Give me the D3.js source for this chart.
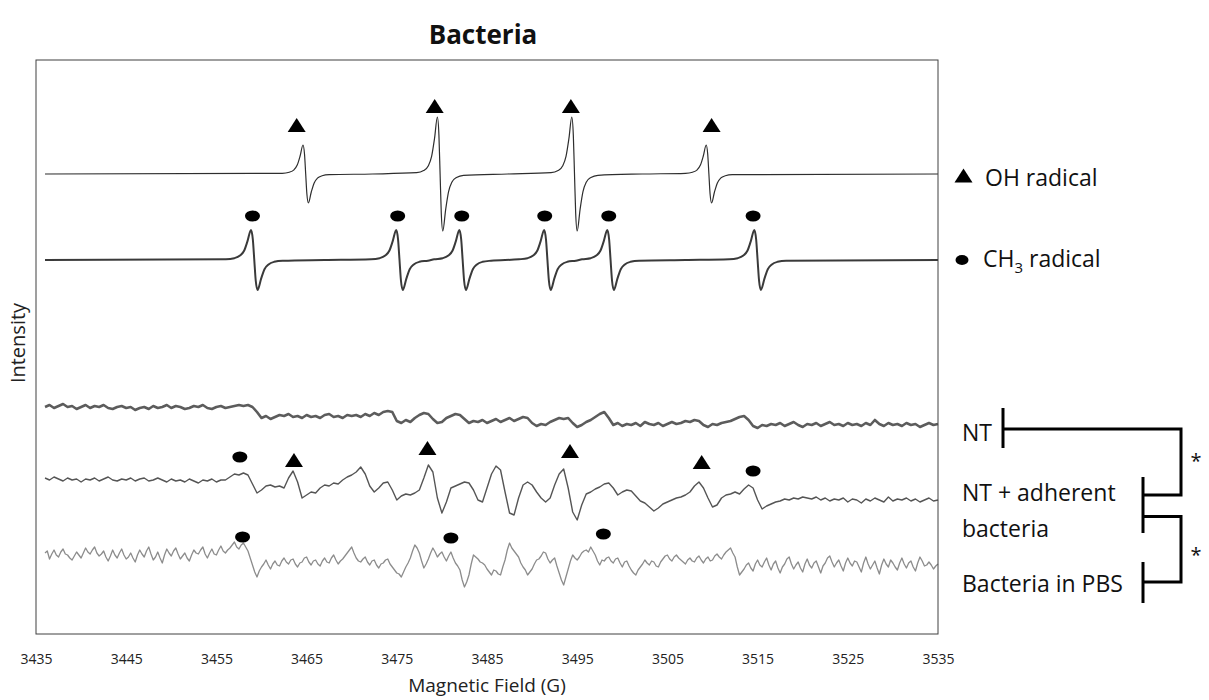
<!doctype html>
<html>
<head>
<meta charset="utf-8">
<title>Bacteria</title>
<style>
  html, body { margin: 0; padding: 0; background: #fff; }
  svg { display: block; font-family: "Open Sans", "Noto Sans", sans-serif; }
</style>
<script src="https://cdnjs.cloudflare.com/ajax/libs/d3/7.8.5/d3.min.js"></script>
</head>
<body>
<script>
// x axis tick labels (G)
var fieldTicks = [3435, 3445, 3455, 3465, 3475, 3485, 3495, 3505, 3515, 3525, 3535];

// simulated spectra, [field G, intensity a.u.]
var ohSpectrum = [
  [3436, 0],
  [3462.3, 0.7], [3463.08, 1.8], [3463.6, 4.2], [3463.96, 8.9], [3464.28, 18], [3464.6, 29], [3464.77, 19.8], [3464.9, 0],
  [3465.03, -19.8], [3465.2, -29], [3465.52, -18], [3465.84, -8.9], [3466.2, -4.2], [3466.72, -1.8], [3467.5, -0.7],
  [3472.3, 0],
  [3477.2, 1.3], [3477.98, 3.5], [3478.5, 8.3], [3478.86, 17.6], [3479.18, 35.3], [3479.5, 57], [3479.67, 38.9], [3479.8, 0],
  [3479.93, -38.9], [3480.1, -57], [3480.42, -35.3], [3480.74, -17.6], [3481.1, -8.3], [3481.62, -3.5], [3482.4, -1.3],
  [3487.3, 0],
  [3492.1, 1.3], [3492.88, 3.5], [3493.4, 8.3], [3493.76, 17.6], [3494.08, 35.3], [3494.4, 57], [3494.57, 38.9], [3494.7, 0],
  [3494.83, -38.9], [3495.0, -57], [3495.32, -35.3], [3495.64, -17.6], [3496.0, -8.3], [3496.52, -3.5], [3497.3, -1.3],
  [3502.2, 0],
  [3507.0, 0.7], [3507.78, 1.8], [3508.3, 4.2], [3508.66, 8.9], [3508.98, 18], [3509.3, 29], [3509.47, 19.8], [3509.6, 0],
  [3509.73, -19.8], [3509.9, -29], [3510.22, -18], [3510.54, -8.9], [3510.9, -4.2], [3511.42, -1.8], [3512.2, -0.7],
  [3535, 0]
];

var ch3Spectrum = [
  [3436, 0],
  [3456.05, 0.7], [3456.99, 1.8], [3457.62, 4.4], [3458.07, 9.2], [3458.44, 18.6], [3458.84, 30], [3459.04, 20.5], [3459.2, 0],
  [3459.36, -20.5], [3459.56, -30], [3459.96, -18.6], [3460.33, -9.2], [3460.78, -4.4], [3461.41, -1.8], [3462.35, -0.7],
  [3467, 0],
  [3472.15, 0.7], [3473.09, 1.8], [3473.72, 4.4], [3474.17, 9.2], [3474.54, 18.6], [3474.94, 30], [3475.14, 20.5], [3475.3, 0],
  [3475.46, -20.5], [3475.66, -30], [3476.06, -18.6], [3476.43, -9.2], [3476.88, -4.4], [3477.51, -1.8], [3478.45, -0.7],
  [3479.15, 0.7], [3480.09, 1.8], [3480.72, 4.4], [3481.17, 9.2], [3481.54, 18.6], [3481.94, 30], [3482.14, 20.5], [3482.3, 0],
  [3482.46, -20.5], [3482.66, -30], [3483.06, -18.6], [3483.43, -9.2], [3483.88, -4.4], [3484.51, -1.8], [3485.45, -0.7],
  [3488.55, 0.7], [3489.49, 1.8], [3490.12, 4.4], [3490.57, 9.2], [3490.94, 18.6], [3491.34, 30], [3491.54, 20.5], [3491.7, 0],
  [3491.86, -20.5], [3492.06, -30], [3492.46, -18.6], [3492.83, -9.2], [3493.28, -4.4], [3493.91, -1.8], [3494.85, -0.7],
  [3495.55, 0.7], [3496.49, 1.8], [3497.12, 4.4], [3497.57, 9.2], [3497.94, 18.6], [3498.34, 30], [3498.54, 20.5], [3498.7, 0],
  [3498.86, -20.5], [3499.06, -30], [3499.46, -18.6], [3499.83, -9.2], [3500.28, -4.4], [3500.91, -1.8], [3501.85, -0.7],
  [3507, 0],
  [3511.85, 0.7], [3512.79, 1.8], [3513.42, 4.4], [3513.87, 9.2], [3514.24, 18.6], [3514.64, 30], [3514.84, 20.5], [3515.0, 0],
  [3515.16, -20.5], [3515.36, -30], [3515.76, -18.6], [3516.13, -9.2], [3516.58, -4.4], [3517.21, -1.8], [3518.15, -0.7],
  [3535, 0]
];

// measured spectra, sampled from 3436 G
var scanStart = 3436;

// NT and NT + adherent bacteria: one value every 0.5 G
var ntValues = [
  1, 3, 0, 2, 4, 1, 2, -1, 1, 3,
  0, 2, 1, 3, 0, -1, 1, 2, 0, 1,
  -2, 0, 1, -1, 2, 0, 1, 3, 0, 2,
  1, -1, 0, 2, 1, 3, 0, -1, 1, 2,
  0, 1, 2, 3, 2, 3, 1, -4, -10, -8,
  -11, -9, -7, -8, -6, -9, -8, -10, -7, -9,
  -8, -10, -7, -6, -9, -8, -10, -7, -8, -7,
  -9, -6, -8, -5, -7, -4, -3, -4, -13, -15,
  -12, -14, -10, -7, -5, -6, -11, -15, -14, -10,
  -8, -6, -7, -11, -15, -13, -14, -12, -15, -13,
  -11, -14, -12, -10, -13, -11, -9, -10, -15, -18,
  -16, -17, -14, -12, -10, -11, -10, -15, -19, -17,
  -14, -12, -9, -6, -4, -10, -17, -15, -18, -16,
  -17, -15, -18, -14, -16, -17, -15, -18, -16, -14,
  -16, -15, -13, -14, -12, -13, -17, -19, -16, -17,
  -15, -14, -13, -11, -9, -8, -12, -18, -20, -17,
  -18, -16, -17, -15, -18, -16, -14, -17, -19, -16,
  -17, -15, -18, -16, -14, -17, -16, -18, -15, -17,
  -16, -18, -15, -17, -12, -16, -18, -15, -17, -16,
  -18, -15, -17, -16, -19, -17, -15, -17, -16
];

var ntBacteriaValues = [
  2, 0, 3, 1, -1, 2, 0, 1, -2, 1,
  0, 2, -1, 1, 3, 0, -1, 1, 0, 2,
  -1, 1, 2, -1, 0, 2, 0, -2, 1, -1,
  0, -2, 1, -1, -3, 0, -1, 1, -2, 0,
  0, 3, 6, 5, 7, 5, -4, -13, -10, -6,
  -5, -7, -6, -8, 2, 9, -2, -18, -15, -12,
  -13, -8, -5, -6, -3, -4, 0, 3, 5, 8,
  13, 6, -6, -12, -8, -3, -2, -10, -20, -16,
  -14, -15, -13, -10, 2, 15, 8, -18, -33, -22,
  -8, -6, -4, -2, -3, -10, -20, -22, -8, 6,
  14, 10, -12, -33, -35, -18, -5, -2, -5, -12,
  -18, -22, -18, -5, 6, 11, -8, -32, -40, -25,
  -14, -12, -9, -7, -4, -3, -8, -15, -12, -10,
  -11, -16, -21, -23, -27, -31, -28, -24, -22, -20,
  -18, -17, -15, -12, -6, -2, -8, -18, -27, -25,
  -18, -15, -14, -12, -14, -9, -5, -8, -20, -29,
  -26, -24, -22, -21, -19, -20, -18, -19, -17, -18,
  -19, -17, -20, -18, -21, -19, -20, -18, -22, -19,
  -20, -23, -19, -21, -18, -20, -22, -17, -21, -19,
  -20, -18, -21, -19, -22, -20, -18, -21, -20
];

// Bacteria in PBS: one value every 0.25 G
var pbsValues = [
  2, 4, -4, 1, 5, 0, -2, 3, 6, 1, 0, -3, -5, -1, 3, 0, -3, 2, 7, 3,
  1, 5, 8, 2, -1, 1, 4, -2, -6, -1, 5, 0, -3, 2, 6, 0, -4, -2, 2, -3,
  -7, 0, 5, 1, -2, 4, 8, 1, -5, -2, 3, -3, -8, 0, 6, 2, -1, 4, 7, 1,
  -4, -1, 2, -3, -6, 0, 5, 2, 1, 5, 8, 1, -3, 2, 6, 1, 0, 5, 9, 4,
  2, 5, 7, 10, 13, 8, 6, 10, 12, 8, 4, -3, -10, -17, -22, -16, -12, -9, -5, -10,
  -14, -9, -6, -10, -11, -6, -3, -7, -9, -5, -4, -9, -12, -8, -7, -3, -2, -7, -10, -6,
  -5, -9, -11, -6, -3, -7, -8, -3, 0, -5, -9, -6, -4, -1, 2, 5, 8, 2, -3, -6,
  -7, -4, -2, -7, -10, -6, -5, -10, -13, -9, -8, -5, -4, -9, -12, -15, -18, -19, -22, -17,
  -12, -8, -3, 4, 10, 7, 2, -6, -13, -9, -4, 2, 7, 3, -2, 1, 3, -2, -6, -1,
  3, -3, -8, -11, -15, -25, -32, -27, -20, -9, 0, -2, -4, -7, -8, -10, -14, -17, -20, -15,
  -16, -19, -20, -12, -5, 5, 12, 7, 4, 1, -2, -8, -12, -15, -20, -17, -14, -9, -5, -4,
  -1, 3, 2, -4, -8, -5, -3, -11, -18, -25, -30, -22, -14, -6, 0, -3, -5, -2, 2, 4,
  5, 3, 8, 4, 0, -6, -10, -5, -6, -3, -2, -6, -8, -4, -3, -8, -12, -7, -6, -11,
  -15, -18, -20, -15, -12, -9, -5, -8, -10, -6, -7, -11, -12, -7, -4, -1, 0, -4, -6, -2,
  0, -3, -5, -7, -9, -5, -3, -6, -7, -3, -1, -5, -8, -4, -2, -6, -5, -1, 1, -2,
  -4, 0, 3, 5, 7, 2, -2, -12, -20, -17, -14, -10, -8, -13, -16, -9, -5, -10, -12, -7,
  -3, -10, -15, -9, -6, -13, -18, -12, -9, -4, -2, -9, -14, -10, -7, -13, -17, -9, -4, -10,
  -13, -8, -6, -12, -18, -11, -8, -3, -1, -7, -12, -8, -5, -11, -16, -8, -3, -8, -11, -6,
  -7, -12, -17, -8, -2, -9, -14, -10, -6, -13, -19, -10, -4, -9, -12, -5, -8, -12, -15, -8,
  -3, -9, -13, -8, -6, -12, -16, -8, -2, -6, -11, -10, -7, -10, -14, -11, -9
];

// vertical offsets of the stacked traces (a.u.)
var traceOffsets = { oh: 460, ch3: 374, nt: 226, ntBacteria: 154, pbs: 79 };

// radical markers, [field G, height above trace baseline a.u.]
var ohSimMarks = [[3463.9, 49], [3479.2, 68], [3494.3, 68], [3509.9, 49]];
var ch3SimMarks = [[3459.0, 44], [3475.1, 44], [3482.2, 44], [3491.4, 44], [3498.5, 44], [3514.5, 44]];
var ntBacteriaOhMarks = [[3463.6, 20], [3478.4, 32], [3494.2, 29], [3508.8, 18]];
var ntBacteriaCh3Marks = [[3457.6, 23], [3514.5, 9]];
var pbsCh3Marks = [[3457.9, 18], [3481.0, 17], [3497.9, 21]];

var sampleLabels = ["NT", "NT + adherent", "bacteria", "Bacteria in PBS"];

var width = 1209, height = 700;
var margin = { left: 36, right: 271, top: 60, bottom: 66 };

var svg = d3.select("body").append("svg")
  .attr("width", width)
  .attr("height", height);

var x = d3.scaleLinear()
  .domain([3435, 3535])
  .range([margin.left, width - margin.right]);

var y = d3.scaleLinear()
  .domain([0, 574])
  .range([height - margin.bottom, margin.top]);

function scan(values, step) {
  return values.map(function (v, i) { return [scanStart + i * step, v]; });
}

function traceLine(offset, curve) {
  return d3.line()
    .x(function (d) { return x(d[0]); })
    .y(function (d) { return y(d[1] + offset); })
    .curve(curve);
}

var traces = [
  { data: ohSpectrum, off: traceOffsets.oh, curve: d3.curveMonotoneX, color: "#2e2e2e", w: 1.2 },
  { data: ch3Spectrum, off: traceOffsets.ch3, curve: d3.curveMonotoneX, color: "#3a3a3a", w: 2 },
  { data: scan(ntValues, 0.5), off: traceOffsets.nt, curve: d3.curveLinear, color: "#5c5c5c", w: 2.6 },
  { data: scan(ntBacteriaValues, 0.5), off: traceOffsets.ntBacteria, curve: d3.curveLinear, color: "#555", w: 1.4 },
  { data: scan(pbsValues, 0.25), off: traceOffsets.pbs, curve: d3.curveLinear, color: "#8c8c8c", w: 1.3 }
];

svg.selectAll(".trace")
  .data(traces)
  .enter().append("path")
  .attr("class", "trace")
  .attr("fill", "none")
  .attr("stroke", function (d) { return d.color; })
  .attr("stroke-width", function (d) { return d.w; })
  .attr("stroke-linejoin", "round")
  .attr("d", function (d) { return traceLine(d.off, d.curve)(d.data); });

// frame
svg.append("rect")
  .attr("x", margin.left)
  .attr("y", margin.top)
  .attr("width", width - margin.left - margin.right)
  .attr("height", height - margin.top - margin.bottom)
  .attr("fill", "none")
  .attr("stroke", "#404040")
  .attr("stroke-width", 1);

var triPath = "M0,-7L9,7L-9,7Z";

function triangles(marks, offset) {
  svg.selectAll(null)
    .data(marks)
    .enter().append("path")
    .attr("d", triPath)
    .attr("fill", "#000")
    .attr("transform", function (d) { return "translate(" + x(d[0]) + "," + y(d[1] + offset) + ")"; });
}

function ovals(marks, offset) {
  svg.selectAll(null)
    .data(marks)
    .enter().append("ellipse")
    .attr("cx", function (d) { return x(d[0]); })
    .attr("cy", function (d) { return y(d[1] + offset); })
    .attr("rx", 7.5)
    .attr("ry", 5.5)
    .attr("fill", "#000");
}

triangles(ohSimMarks, traceOffsets.oh);
ovals(ch3SimMarks, traceOffsets.ch3);
triangles(ntBacteriaOhMarks, traceOffsets.ntBacteria);
ovals(ntBacteriaCh3Marks, traceOffsets.ntBacteria);
ovals(pbsCh3Marks, traceOffsets.pbs);

// x axis
var xAxis = d3.axisBottom(x)
  .tickValues(fieldTicks)
  .tickSize(0)
  .tickPadding(20)
  .tickFormat(d3.format("d"));

var gx = svg.append("g")
  .attr("transform", "translate(0," + (height - margin.bottom) + ")")
  .call(xAxis);
gx.select(".domain").remove();
gx.selectAll("text")
  .attr("font-family", "Open Sans")
  .attr("font-size", "14px")
  .attr("fill", "#222");

svg.append("text")
  .attr("x", (margin.left + width - margin.right) / 2)
  .attr("y", 692)
  .attr("text-anchor", "middle")
  .attr("font-size", "19px")
  .attr("fill", "#222")
  .text("Magnetic Field (G)");

svg.append("text")
  .attr("transform", "translate(25,343) rotate(-90)")
  .attr("text-anchor", "middle")
  .attr("font-size", "20px")
  .attr("fill", "#222")
  .text("Intensity");

svg.append("text")
  .attr("x", 483)
  .attr("y", 44)
  .attr("text-anchor", "middle")
  .attr("font-size", "26px")
  .attr("font-weight", "bold")
  .attr("fill", "#111")
  .text("Bacteria");

// radical legend
svg.append("path")
  .attr("d", triPath)
  .attr("fill", "#000")
  .attr("transform", "translate(963.5,175.5)");
svg.append("text")
  .attr("x", 985).attr("y", 186)
  .attr("font-size", "23px")
  .attr("fill", "#111")
  .text("OH radical");

svg.append("ellipse")
  .attr("cx", 962).attr("cy", 260)
  .attr("rx", 6.5).attr("ry", 5)
  .attr("fill", "#000");
var ch3 = svg.append("text")
  .attr("x", 983).attr("y", 267)
  .attr("font-size", "23px")
  .attr("fill", "#111");
ch3.append("tspan").text("CH");
ch3.append("tspan").attr("font-size", "15px").attr("dy", 6).text("3");
ch3.append("tspan").attr("dy", -6).text(" radical");

// sample labels and significance brackets
var labelY = [441, 501, 537, 592];
svg.selectAll(".sample")
  .data(sampleLabels)
  .enter().append("text")
  .attr("class", "sample")
  .attr("x", 962)
  .attr("y", function (d, i) { return labelY[i]; })
  .attr("font-size", "23px")
  .attr("fill", "#111")
  .text(function (d) { return d; });

var brackets = [
  "M1003,408V448", "M1003,429H1181V495H1143",
  "M1143,477V533", "M1143,516.5H1181V582H1143",
  "M1143,562V603"
];
svg.selectAll(".bracket")
  .data(brackets)
  .enter().append("path")
  .attr("class", "bracket")
  .attr("d", function (d) { return d; })
  .attr("fill", "none")
  .attr("stroke", "#000")
  .attr("stroke-width", 3);

svg.selectAll(".star")
  .data([468, 562])
  .enter().append("text")
  .attr("class", "star")
  .attr("x", 1196)
  .attr("y", function (d) { return d; })
  .attr("text-anchor", "middle")
  .attr("font-size", "20px")
  .attr("fill", "#111")
  .text("*");
</script>
</body>
</html>
